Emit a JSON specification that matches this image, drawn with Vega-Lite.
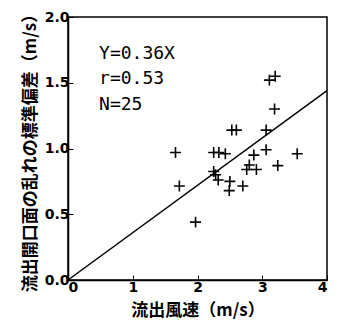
{
  "$schema": "https://vega.github.io/schema/vega-lite/v6.json",
  "width": 259,
  "height": 263,
  "autosize": {"type": "none"},
  "padding": {"left": 68, "top": 17, "right": 18, "bottom": 52},
  "background": "white",
  "config": {
    "view": {"stroke": "black", "strokeWidth": 1.5},
    "axis": {"grid": false, "domainColor": "black", "tickColor": "black", "labelColor": "black", "titleColor": "black", "labelFont": "DejaVu Sans", "labelFontWeight": 700, "labelFontSize": 14, "titleFont": "Noto Sans CJK JP", "titleFontWeight": 700, "titleFontSize": 17, "tickSize": -5, "domainWidth": 1.5}
  },
  "layer": [
    {
      "data": {"values": [{"x": 0, "y": 0}, {"x": 4, "y": 1.44}]},
      "mark": {"type": "line", "color": "black", "strokeWidth": 1.5},
      "encoding": {
        "x": {"field": "x", "type": "quantitative", "scale": {"domain": [0, 4], "nice": false}, "axis": {"values": [0, 1, 2, 3, 4], "format": "d", "title": "流出風速（m/s）", "labelPadding": 5, "titlePadding": 8}},
        "y": {"field": "y", "type": "quantitative", "scale": {"domain": [0, 2], "nice": false}, "axis": {"values": [0, 0.5, 1, 1.5, 2], "format": ".1f", "title": "流出開口面の乱れの標準偏差（m/s）", "labelPadding": 4, "titlePadding": 5}}
      }
    },
    {
      "data": {"values": [
        {"x": 3.11, "y": 1.52}, {"x": 3.20, "y": 1.55}, {"x": 3.19, "y": 1.30},
        {"x": 2.53, "y": 1.14}, {"x": 2.60, "y": 1.14}, {"x": 3.06, "y": 1.14},
        {"x": 1.66, "y": 0.97}, {"x": 2.25, "y": 0.97}, {"x": 2.33, "y": 0.97},
        {"x": 2.43, "y": 0.96}, {"x": 2.87, "y": 0.95}, {"x": 3.06, "y": 0.99},
        {"x": 3.54, "y": 0.96}, {"x": 2.80, "y": 0.875}, {"x": 2.76, "y": 0.84},
        {"x": 2.91, "y": 0.84}, {"x": 3.24, "y": 0.87}, {"x": 2.25, "y": 0.825},
        {"x": 2.28, "y": 0.80}, {"x": 2.32, "y": 0.76}, {"x": 2.50, "y": 0.75},
        {"x": 2.49, "y": 0.68}, {"x": 2.70, "y": 0.715}, {"x": 1.72, "y": 0.715},
        {"x": 1.97, "y": 0.44}
      ]},
      "mark": {"type": "point", "shape": "M-1,0H1M0,-1V1", "size": 120, "stroke": "black", "strokeWidth": 1.6, "filled": false, "opacity": 1},
      "encoding": {
        "x": {"field": "x", "type": "quantitative"},
        "y": {"field": "y", "type": "quantitative"}
      }
    },
    {
      "data": {"values": [{"t": "Y=0.36X", "x": 0.48, "y": 1.72}, {"t": "r=0.53", "x": 0.48, "y": 1.525}, {"t": "N=25", "x": 0.48, "y": 1.33}]},
      "mark": {"type": "text", "align": "left", "baseline": "middle", "font": "DejaVu Sans Mono", "fontSize": 18, "color": "black"},
      "encoding": {
        "x": {"field": "x", "type": "quantitative"},
        "y": {"field": "y", "type": "quantitative"},
        "text": {"field": "t"}
      }
    }
  ]
}
